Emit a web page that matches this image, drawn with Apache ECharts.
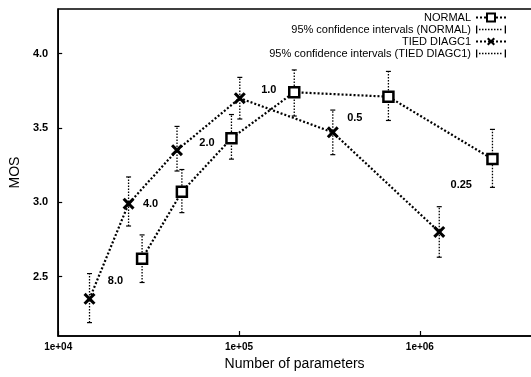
<!DOCTYPE html>
<html><head><meta charset="utf-8">
<script src="https://cdn.jsdelivr.net/npm/echarts@6/dist/echarts.min.js"></script>
<style>html,body{margin:0;padding:0;background:#fff;overflow:hidden;width:531px;height:377px}#c{width:545px;height:377px}</style>
</head><body><div id="c"></div>
<script>
// ---- data ----
const normalX   = [2.91e4, 4.83e4, 9.08e4, 2.02e5, 6.7e5, 2.52e6];
const normalY   = [2.62, 3.07, 3.43, 3.74, 3.71, 3.29];
const normalLo  = [2.46, 2.93, 3.29, 3.58, 3.55, 3.10];
const normalHi  = [2.78, 3.22, 3.59, 3.89, 3.88, 3.49];
const tiedX     = [1.49e4, 2.45e4, 4.54e4, 1.01e5, 3.3e5, 1.28e6];
const tiedY     = [2.35, 2.99, 3.35, 3.70, 3.47, 2.80];
const tiedLo    = [2.19, 2.84, 3.21, 3.56, 3.32, 2.63];
const tiedHi    = [2.52, 3.17, 3.51, 3.84, 3.62, 2.97];
const tiedNotes = ['8.0', '4.0', '2.0', '1.0', '0.5', '0.25'];
const yTicks    = [2.5, 3.0, 3.5, 4.0];
const seriesNames = ['NORMAL', '95% confidence intervals (NORMAL)', 'TIED DIAGC1', '95% confidence intervals (TIED DIAGC1)'];

// ---- layout / style ----
const noteOffsets = [[26,-18],[22,0],[30,-7],[29,-8],[22,-14],[22,-47]];
const FONT = '"Liberation Sans", Arial, sans-serif';

function ciIcon() {
  let p = 'path://M0,0h1.3v8h-1.3z M28.7,0h1.3v8h-1.3z';
  for (let x = 3; x < 27; x += 3) p += ' M' + x + ',3.3h1.5v1.5h-' + '1.5z';
  return p;
}
const xIcon = 'path://M0,1.8L1.8,0L5,3.2L8.2,0L10,1.8L6.8,5L10,8.2L8.2,10L5,6.8L1.8,10L0,8.2L3.2,5Z';

function errRender(params, api) {
  const x = api.value(0), lo = api.value(1), hi = api.value(2);
  const p1 = api.coord([x, lo]), p2 = api.coord([x, hi]);
  const c = 2.5;
  return {type: 'group', children: [
    {type: 'line', shape: {x1: p1[0], y1: p1[1], x2: p2[0], y2: p2[1]}, style: {stroke: '#000', lineWidth: 1.3, lineDash: [1.5, 1.5]}},
    {type: 'line', shape: {x1: p1[0]-c, y1: p1[1], x2: p1[0]+c, y2: p1[1]}, style: {stroke: '#000', lineWidth: 1.2}},
    {type: 'line', shape: {x1: p2[0]-c, y1: p2[1], x2: p2[0]+c, y2: p2[1]}, style: {stroke: '#000', lineWidth: 1.2}}
  ]};
}

const chart = echarts.init(document.getElementById('c'), null, {renderer: 'canvas'});
chart.setOption({
  backgroundColor: '#fff',
  animation: false,
  textStyle: {fontFamily: FONT, color: '#000'},
  grid: {left: 55, right: 0, top: 9, bottom: 41, show: true, borderColor: '#000', borderWidth: 1.5, containLabel: false},
  legend: {
    orient: 'vertical', right: 33, top: 7, align: 'right', itemGap: 1,
    itemWidth: 30, itemHeight: 10, selectedMode: false,
    textStyle: {fontFamily: FONT, fontSize: 11, color: '#000', lineHeight: 11},
    data: [
      {name: seriesNames[0]},
      {name: seriesNames[1], icon: ciIcon()},
      {name: seriesNames[2]},
      {name: seriesNames[3], icon: ciIcon()}
    ]
  },
  xAxis: {
    type: 'log', logBase: 10, min: 1e4, max: 4.92e6,
    name: 'Number of parameters', nameLocation: 'middle', nameGap: 8,
    nameTextStyle: {fontSize: 14, fontFamily: FONT, color: '#000', padding: [0, 14, 0, 0]},
    axisLine: {lineStyle: {color: '#000', width: 1.5}},
    axisTick: {inside: true, length: 5, lineStyle: {color: '#000', width: 1.2}},
    minorTick: {show: false},
    splitLine: {show: false},
    axisLabel: {showMaxLabel: false, fontSize: 10, fontWeight: 'bold', color: '#000', margin: 6,
      formatter: v => '1e+' + String(Math.round(Math.log10(v))).padStart(2, '0')}
  },
  yAxis: {
    type: 'value', min: 2.1, max: 4.3,
    name: 'MOS', nameLocation: 'middle', nameGap: 33,
    nameTextStyle: {fontSize: 14, fontFamily: FONT, color: '#000'},
    axisLine: {show: true, lineStyle: {color: '#000', width: 1.5}},
    axisTick: {inside: true, length: 4, customValues: yTicks, lineStyle: {color: '#000', width: 1.2}},
    splitLine: {show: false},
    axisLabel: {customValues: yTicks, fontSize: 11, fontWeight: 'bold', color: '#000', margin: 10,
      formatter: v => v.toFixed(1)}
  },
  series: [
    {
      name: seriesNames[0], type: 'line',
      data: normalX.map((x, i) => [x, normalY[i]]),
      symbol: 'rect', symbolSize: 10, showAllSymbol: true,
      itemStyle: {color: '#fff', borderColor: '#000', borderWidth: 2.5},
      lineStyle: {color: '#000', width: 2.2, type: [2, 2]},
      z: 4
    },
    {
      name: seriesNames[1], type: 'custom', renderItem: errRender,
      itemStyle: {color: '#000'},
      encode: {x: 0, y: [1, 2]},
      data: normalX.map((x, i) => [x, normalLo[i], normalHi[i]]),
      z: 3
    },
    {
      name: seriesNames[2], type: 'line',
      data: tiedX.map((x, i) => ({
        value: [x, tiedY[i]],
        label: {show: true, formatter: tiedNotes[i], position: 'inside', offset: noteOffsets[i],
          fontSize: 11, fontWeight: 'bold', color: '#000', fontFamily: FONT}
      })),
      symbol: xIcon, symbolSize: 12, showAllSymbol: true,
      itemStyle: {color: '#000'},
      lineStyle: {color: '#000', width: 2.2, type: [2, 2]},
      z: 4
    },
    {
      name: seriesNames[3], type: 'custom', renderItem: errRender,
      itemStyle: {color: '#000'},
      encode: {x: 0, y: [1, 2]},
      data: tiedX.map((x, i) => [x, tiedLo[i], tiedHi[i]]),
      z: 3
    }
  ]
});
</script>
</body></html>
